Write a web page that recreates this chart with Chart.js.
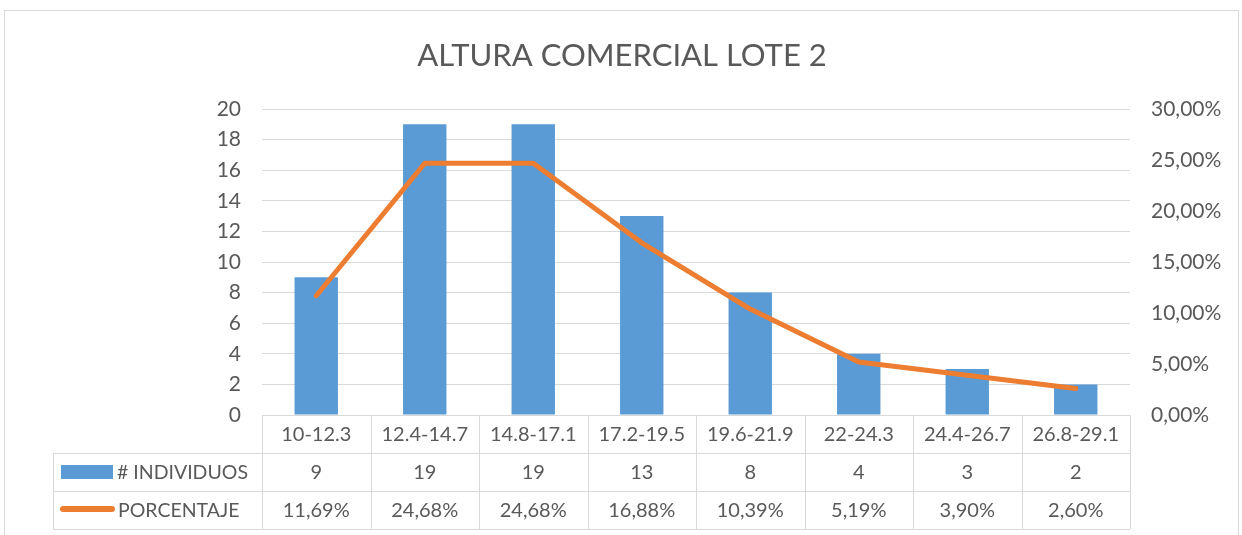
<!DOCTYPE html>
<html>
<head>
<meta charset="utf-8">
<script src="https://cdn.jsdelivr.net/npm/chart.js@4"></script>
<style>
html, body { margin: 0; padding: 0; background: #fff; }
#wrap { width: 1242px; height: 535px; }
</style>
</head>
<body>
<div id="wrap"><canvas id="grafico"></canvas></div>
<script>
const titulo = "ALTURA COMERCIAL LOTE 2";
const rangos = ["10-12.3", "12.4-14.7", "14.8-17.1", "17.2-19.5", "19.6-21.9", "22-24.3", "24.4-26.7", "26.8-29.1"];
const individuos = [9, 19, 19, 13, 8, 4, 3, 2];
const porcentaje = [0.1169, 0.2468, 0.2468, 0.1688, 0.1039, 0.0519, 0.0390, 0.0260];
const nombreBarras = "# INDIVIDUOS";
const nombreLinea = "PORCENTAJE";

const fuente = "Lato";
const gris = "#595959";
const lineaGris = "#D9D9D9";
const azul = "#5B9BD5";
const naranja = "#ED7D31";

function pct(v) {
    return (v * 100).toFixed(2).replace(".", ",") + "%";
}

// marco, titulo y tabla de datos debajo del eje
const tablaDatos = {
    id: "tablaDatos",
    beforeDraw(chart) {
        const ctx = chart.ctx;
        ctx.save();
        ctx.fillStyle = "#fff";
        ctx.fillRect(0, 0, chart.width, chart.height);
        ctx.strokeStyle = lineaGris;
        ctx.lineWidth = 1;
        ctx.strokeRect(4.5, 10.5, 1234, 600);
        ctx.fillStyle = gris;
        ctx.font = "31px " + fuente;
        ctx.textAlign = "center";
        ctx.textBaseline = "middle";
        ctx.fillText(titulo, 622, 56);
        ctx.restore();
    },
    afterDraw(chart) {
        const ctx = chart.ctx;
        const area = chart.chartArea;
        const n = rangos.length;
        const w = (area.right - area.left) / n;
        const izq = 53;
        const filas = [area.bottom, area.bottom + 38, area.bottom + 76, area.bottom + 114];
        ctx.save();
        ctx.strokeStyle = lineaGris;
        ctx.lineWidth = 1;
        ctx.beginPath();
        // horizontales
        ctx.moveTo(area.left, filas[0] + 0.5); ctx.lineTo(area.right, filas[0] + 0.5);
        for (let r = 1; r < 4; r++) {
            ctx.moveTo(izq, filas[r] + 0.5); ctx.lineTo(area.right, filas[r] + 0.5);
        }
        // verticales
        ctx.moveTo(izq + 0.5, filas[1]); ctx.lineTo(izq + 0.5, filas[3]);
        for (let i = 0; i <= n; i++) {
            const x = Math.round(area.left + i * w) + 0.5;
            ctx.moveTo(x, filas[0]); ctx.lineTo(x, filas[3]);
        }
        ctx.stroke();

        ctx.fillStyle = gris;
        ctx.font = "20px " + fuente;
        ctx.textAlign = "center";
        ctx.textBaseline = "middle";
        const xs = chart.scales.x;
        for (let i = 0; i < n; i++) {
            const cx = xs.getPixelForValue(i);
            ctx.fillText(rangos[i], cx, (filas[0] + filas[1]) / 2 + 1);
            ctx.fillText(String(individuos[i]), cx, (filas[1] + filas[2]) / 2 + 1);
            ctx.fillText(pct(porcentaje[i]), cx, (filas[2] + filas[3]) / 2 + 1);
        }

        // leyenda en la tabla
        const y1 = (filas[1] + filas[2]) / 2;
        const y2 = (filas[2] + filas[3]) / 2;
        ctx.fillStyle = azul;
        ctx.fillRect(61, y1 - 7, 52, 14);
        ctx.strokeStyle = naranja;
        ctx.lineWidth = 6;
        ctx.lineCap = "round";
        ctx.beginPath();
        ctx.moveTo(63, y2 - 1); ctx.lineTo(112, y2 - 1);
        ctx.stroke();
        ctx.fillStyle = gris;
        ctx.font = "19.5px " + fuente;
        ctx.textAlign = "left";
        ctx.fillText(nombreBarras, 117, y1 + 1);
        ctx.fillText(nombreLinea, 118, y2 + 1);
        ctx.restore();
    }
};

new Chart(document.getElementById("grafico"), {
    type: "bar",
    data: {
        labels: rangos,
        datasets: [{
            type: "line",
            label: nombreLinea,
            data: porcentaje,
            yAxisID: "y2",
            borderColor: naranja,
            borderWidth: 5,
            borderCapStyle: "round",
            borderJoinStyle: "round",
            pointRadius: 0,
            tension: 0,
            order: 0
        }, {
            type: "bar",
            label: nombreBarras,
            data: individuos,
            yAxisID: "y",
            backgroundColor: azul,
            barPercentage: 0.4,
            categoryPercentage: 1,
            order: 1
        }]
    },
    options: {
        responsive: true,
        maintainAspectRatio: false,
        animation: false,
        layout: { padding: { top: 109, bottom: 120, left: 0, right: 0 } },
        plugins: {
            legend: { display: false },
            tooltip: { enabled: false }
        },
        scales: {
            x: { display: false },
            y: {
                position: "left",
                min: 0,
                max: 20,
                ticks: { stepSize: 2, color: gris, font: { family: fuente, size: 21 }, padding: 21 },
                grid: { color: lineaGris, drawTicks: false },
                border: { display: false },
                afterFit(s) { s.width = 262; }
            },
            y2: {
                position: "right",
                min: 0,
                max: 0.3,
                ticks: { stepSize: 0.05, color: gris, font: { family: fuente, size: 21 }, padding: 21, callback: v => pct(v) },
                grid: { drawOnChartArea: false, drawTicks: false },
                border: { display: false },
                afterFit(s) { s.width = 112; }
            }
        }
    },
    plugins: [tablaDatos]
});
</script>
</body>
</html>
